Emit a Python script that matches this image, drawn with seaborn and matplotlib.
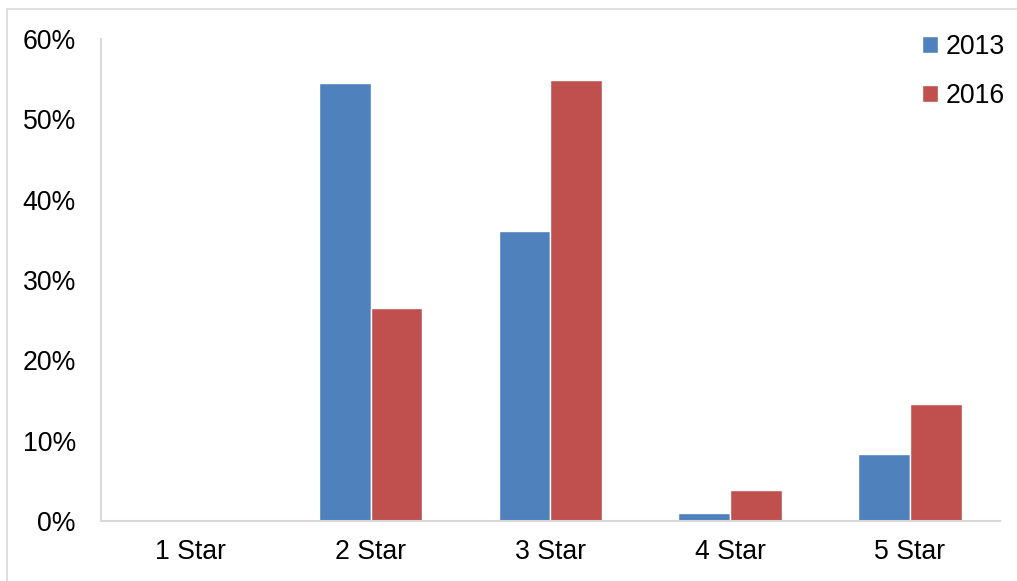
import pandas as pd
import seaborn as sns
import matplotlib.pyplot as plt
from matplotlib.lines import Line2D
from matplotlib.ticker import FuncFormatter

# ==================== Data ====================

categories = ["1 Star", "2 Star", "3 Star", "4 Star", "5 Star"]
share_2013 = [0.0, 54.5, 36.1, 1.0, 8.3]
share_2016 = [0.0, 26.5, 54.9, 3.9, 14.6]
years = ["2013", "2016"]

data = pd.DataFrame({
    "category": categories * 2,
    "year": [years[0]] * len(categories) + [years[1]] * len(categories),
    "share": share_2013 + share_2016,
})

# ==================== Plot ====================

sns.set_style("white")
plt.rcParams["font.family"] = ["Liberation Sans", "DejaVu Sans"]
plt.rcParams["text.color"] = "black"
plt.rcParams["xtick.color"] = "black"
plt.rcParams["ytick.color"] = "black"

fig = plt.figure(figsize=(10.17, 5.81), dpi=100)
ax = fig.add_axes([0.0993, 0.1033, 0.8837, 0.8297])

sns.barplot(
    data, x="category", y="share", hue="year",
    palette=["#4F81BD", "#C0504D"], width=0.575, saturation=1,
    order=categories, hue_order=years, ax=ax,
)

ax.set_ylim(0, 60)
ax.set_yticks(range(0, 61, 10))
ax.yaxis.set_major_formatter(FuncFormatter(lambda v, _: f"{v:.0f}%"))
ax.set_xlabel("")
ax.set_ylabel("")
ax.tick_params(axis="y", length=0, pad=18, labelsize=19.2, labelcolor="black")
ax.tick_params(axis="x", length=0, pad=13, labelsize=19.2, labelcolor="black")

for side in ["top", "right"]:
    ax.spines[side].set_visible(False)
for side in ["left", "bottom"]:
    ax.spines[side].set_color("#D9D9D9")
    ax.spines[side].set_linewidth(1.5)

ax.legend(
    loc="upper right", bbox_to_anchor=(1.033, 1.06), frameon=False,
    fontsize=19.2, handlelength=0.6, handleheight=0.6, handletextpad=0.3,
    labelspacing=0.85, labelcolor="black",
)

# outer chart frame (partly cropped in the original)
fig.add_artist(Line2D([7 / 1017, 7 / 1017], [0, 1 - 9 / 581], color="#D9D9D9", lw=1.2))
fig.add_artist(Line2D([7 / 1017, 1], [1 - 9 / 581, 1 - 9 / 581], color="#D9D9D9", lw=1.2))

fig.savefig("out.png", dpi=100)
